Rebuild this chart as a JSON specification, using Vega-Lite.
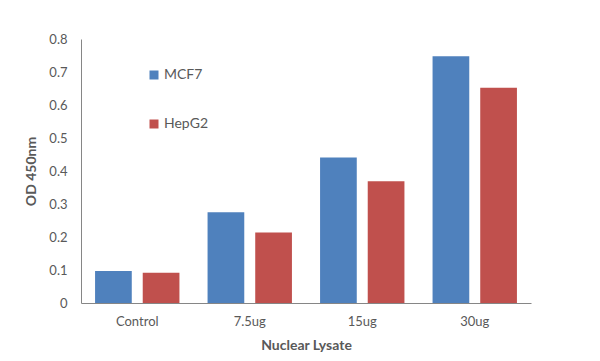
{
  "$schema": "https://vega.github.io/schema/vega-lite/v6.json",
  "width": 450,
  "height": 264,
  "autosize": {"type": "none"},
  "padding": {"left": 81, "top": 39, "right": 69, "bottom": 58},
  "background": "white",
  "config": {
    "view": {"stroke": null},
    "font": "Lato",
    "axis": {"grid": false, "ticks": false, "domainColor": "#868686", "labelColor": "#595959", "titleColor": "#595959", "labelFontSize": 13, "titleFontSize": 14, "labelFont": "Lato", "titleFont": "Lato"}
  },
  "data": {
    "values": [
      {"lysate": "Control", "cell": "MCF7", "od": 0.097},
      {"lysate": "Control", "cell": "HepG2", "od": 0.092},
      {"lysate": "7.5ug", "cell": "MCF7", "od": 0.275},
      {"lysate": "7.5ug", "cell": "HepG2", "od": 0.214},
      {"lysate": "15ug", "cell": "MCF7", "od": 0.441},
      {"lysate": "15ug", "cell": "HepG2", "od": 0.369},
      {"lysate": "30ug", "cell": "MCF7", "od": 0.748},
      {"lysate": "30ug", "cell": "HepG2", "od": 0.652}
    ]
  },
  "mark": {"type": "bar"},
  "encoding": {
    "x": {
      "field": "lysate", "type": "nominal", "sort": ["Control", "7.5ug", "15ug", "30ug"],
      "scale": {"paddingInner": 0.25, "paddingOuter": 0.125},
      "axis": {"title": "Nuclear Lysate", "labelAngle": 0, "labelPadding": 12, "titlePadding": 10, "domainWidth": 1}
    },
    "xOffset": {
      "field": "cell", "type": "nominal", "sort": ["MCF7", "HepG2"],
      "scale": {"paddingInner": 0.23, "paddingOuter": 0}
    },
    "y": {
      "field": "od", "type": "quantitative",
      "scale": {"domain": [0, 0.8], "nice": false},
      "axis": {"title": "OD 450nm", "values": [0, 0.1, 0.2, 0.3, 0.4, 0.5, 0.6, 0.7, 0.8], "format": ".1~f", "labelOverlap": false, "labelPadding": 14, "titlePadding": 10, "labelFlush": false}
    },
    "color": {
      "field": "cell", "type": "nominal", "sort": ["MCF7", "HepG2"],
      "scale": {"domain": ["MCF7", "HepG2"], "range": ["#4F81BD", "#C0504D"]},
      "legend": {
        "title": null, "orient": "none", "legendX": 66, "legendY": 29,
        "symbolType": "square", "symbolSize": 81, "symbolStrokeWidth": 0, "symbolOpacity": 1,
        "labelFontSize": 14, "labelColor": "#595959", "labelFont": "Lato", "labelOffset": 3, "rowPadding": 35
      }
    }
  }
}
